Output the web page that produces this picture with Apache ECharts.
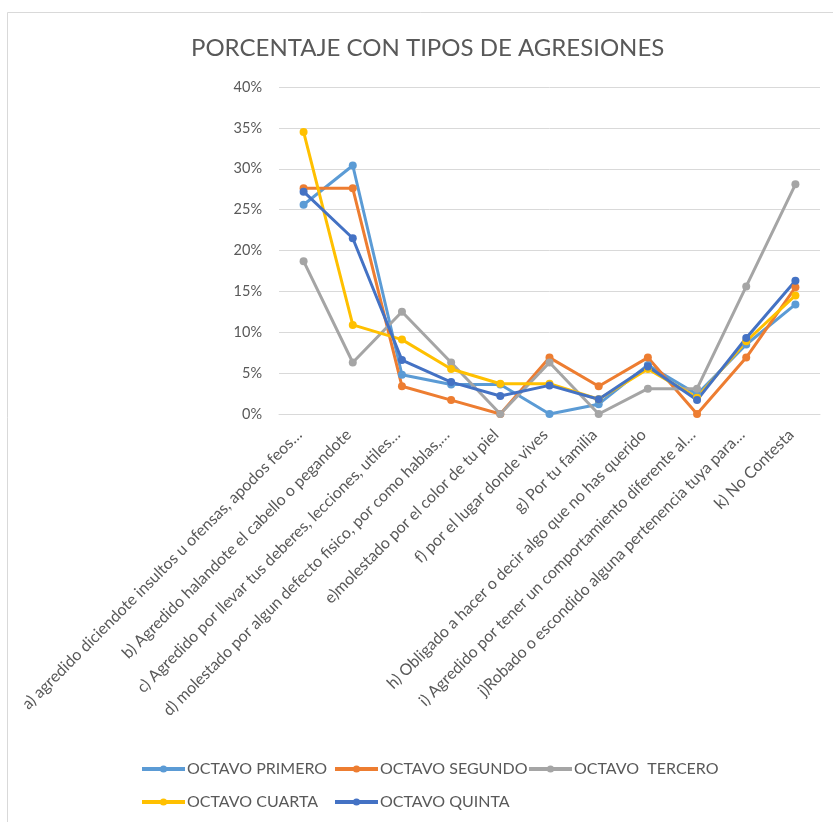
<!DOCTYPE html>
<html><head><meta charset="utf-8">
<script src="https://cdn.jsdelivr.net/npm/echarts@6/dist/echarts.min.js"></script>
<style>html,body{margin:0;padding:0;background:#fff}#c{width:833px;height:822px}</style>
</head><body><div id="c"></div>
<script>
const title = "PORCENTAJE CON TIPOS DE AGRESIONES";
const categories = [
  "a) agredido diciendote insultos u ofensas, apodos feos…",
  "b) Agredido halandote el cabello o pegandote",
  "c) Agredido por llevar tus deberes, lecciones, utiles…",
  "d) molestado por algun defecto fisico, por como hablas,…",
  "e)molestado por el color de tu piel",
  "f) por el lugar donde vives",
  "g) Por tu familia",
  "h) Obligado a hacer o decir algo que no has querido",
  "i) Agredido por tener un comportamiento diferente al…",
  "j)Robado o escondido alguna pertenencia tuya para…",
  "k) No Contesta"
];
const seriesNames = ["OCTAVO PRIMERO", "OCTAVO SEGUNDO", "OCTAVO  TERCERO", "OCTAVO CUARTA", "OCTAVO QUINTA"];
const octavoPrimero = [0.256, 0.304, 0.048, 0.036, 0.036, 0.000, 0.012, 0.060, 0.024, 0.085, 0.134];
const octavoSegundo = [0.276, 0.276, 0.034, 0.017, 0.000, 0.069, 0.034, 0.069, 0.000, 0.069, 0.155];
const octavoTercero = [0.187, 0.063, 0.125, 0.063, 0.000, 0.063, 0.000, 0.031, 0.031, 0.156, 0.281];
const octavoCuarta  = [0.345, 0.109, 0.091, 0.055, 0.037, 0.037, 0.018, 0.055, 0.020, 0.089, 0.145];
const octavoQuinta  = [0.272, 0.215, 0.066, 0.039, 0.022, 0.035, 0.018, 0.058, 0.017, 0.093, 0.163];
const seriesValues = [octavoPrimero, octavoSegundo, octavoTercero, octavoCuarta, octavoQuinta];
const colors = ["#5B9BD5", "#ED7D31", "#A5A5A5", "#FFC000", "#4472C4"];
const legendPos = [[140, 758], [333, 758], [527, 758], [140, 791], [333, 791]];

const FONT = "Lato";
const chart = echarts.init(document.getElementById('c'), null, {renderer: 'canvas'});
const option = {
  animation: false,
  backgroundColor: '#fff',
  color: colors,
  title: {
    text: title, left: 186, top: 31,
    textStyle: {fontFamily: FONT, fontSize: 24, fontWeight: 'normal', color: '#595959'}
  },
  legend: seriesNames.map((n, i) => ({
    data: [n], left: legendPos[i][0], top: legendPos[i][1],
    itemWidth: 43, itemHeight: 9, itemGap: 0, padding: [3, 0, 3, 0],
    lineStyle: {width: 4},
    textStyle: {fontFamily: FONT, fontSize: 16, color: '#595959', padding: [0, 0, 0, -3]},
    selectedMode: false
  })),
  grid: {left: 279, right: 13, top: 87, bottom: 408, containLabel: false},
  xAxis: {
    type: 'category', data: categories, boundaryGap: true,
    axisLine: {show: true, lineStyle: {color: '#d9d9d9', width: 1}},
    axisTick: {show: false},
    axisLabel: {
      interval: 0, rotate: 45, margin: 14, padding: [0, 6, 0, 0],
      fontFamily: FONT, fontSize: 16, color: '#595959'
    }
  },
  yAxis: {
    type: 'value', min: 0, max: 0.4, interval: 0.05,
    axisLine: {show: false}, axisTick: {show: false},
    splitLine: {lineStyle: {color: '#d9d9d9', width: 1}},
    axisLabel: {
      formatter: v => Math.round(v * 100) + '%',
      fontFamily: FONT, fontSize: 14.5, color: '#595959', margin: 17
    }
  },
  series: seriesNames.map((n, i) => ({
    name: n, type: 'line', data: seriesValues[i],
    symbol: 'circle', symbolSize: 8,
    lineStyle: {width: 3, color: colors[i]},
    itemStyle: {color: colors[i]}
  })),
  graphic: [{
    type: 'rect', shape: {x: 7.5, y: 12.5, width: 900, height: 900},
    style: {fill: 'none', stroke: '#d9d9d9', lineWidth: 1}, silent: true, z: 100
  }]
};
chart.setOption(option);
</script>
</body></html>
